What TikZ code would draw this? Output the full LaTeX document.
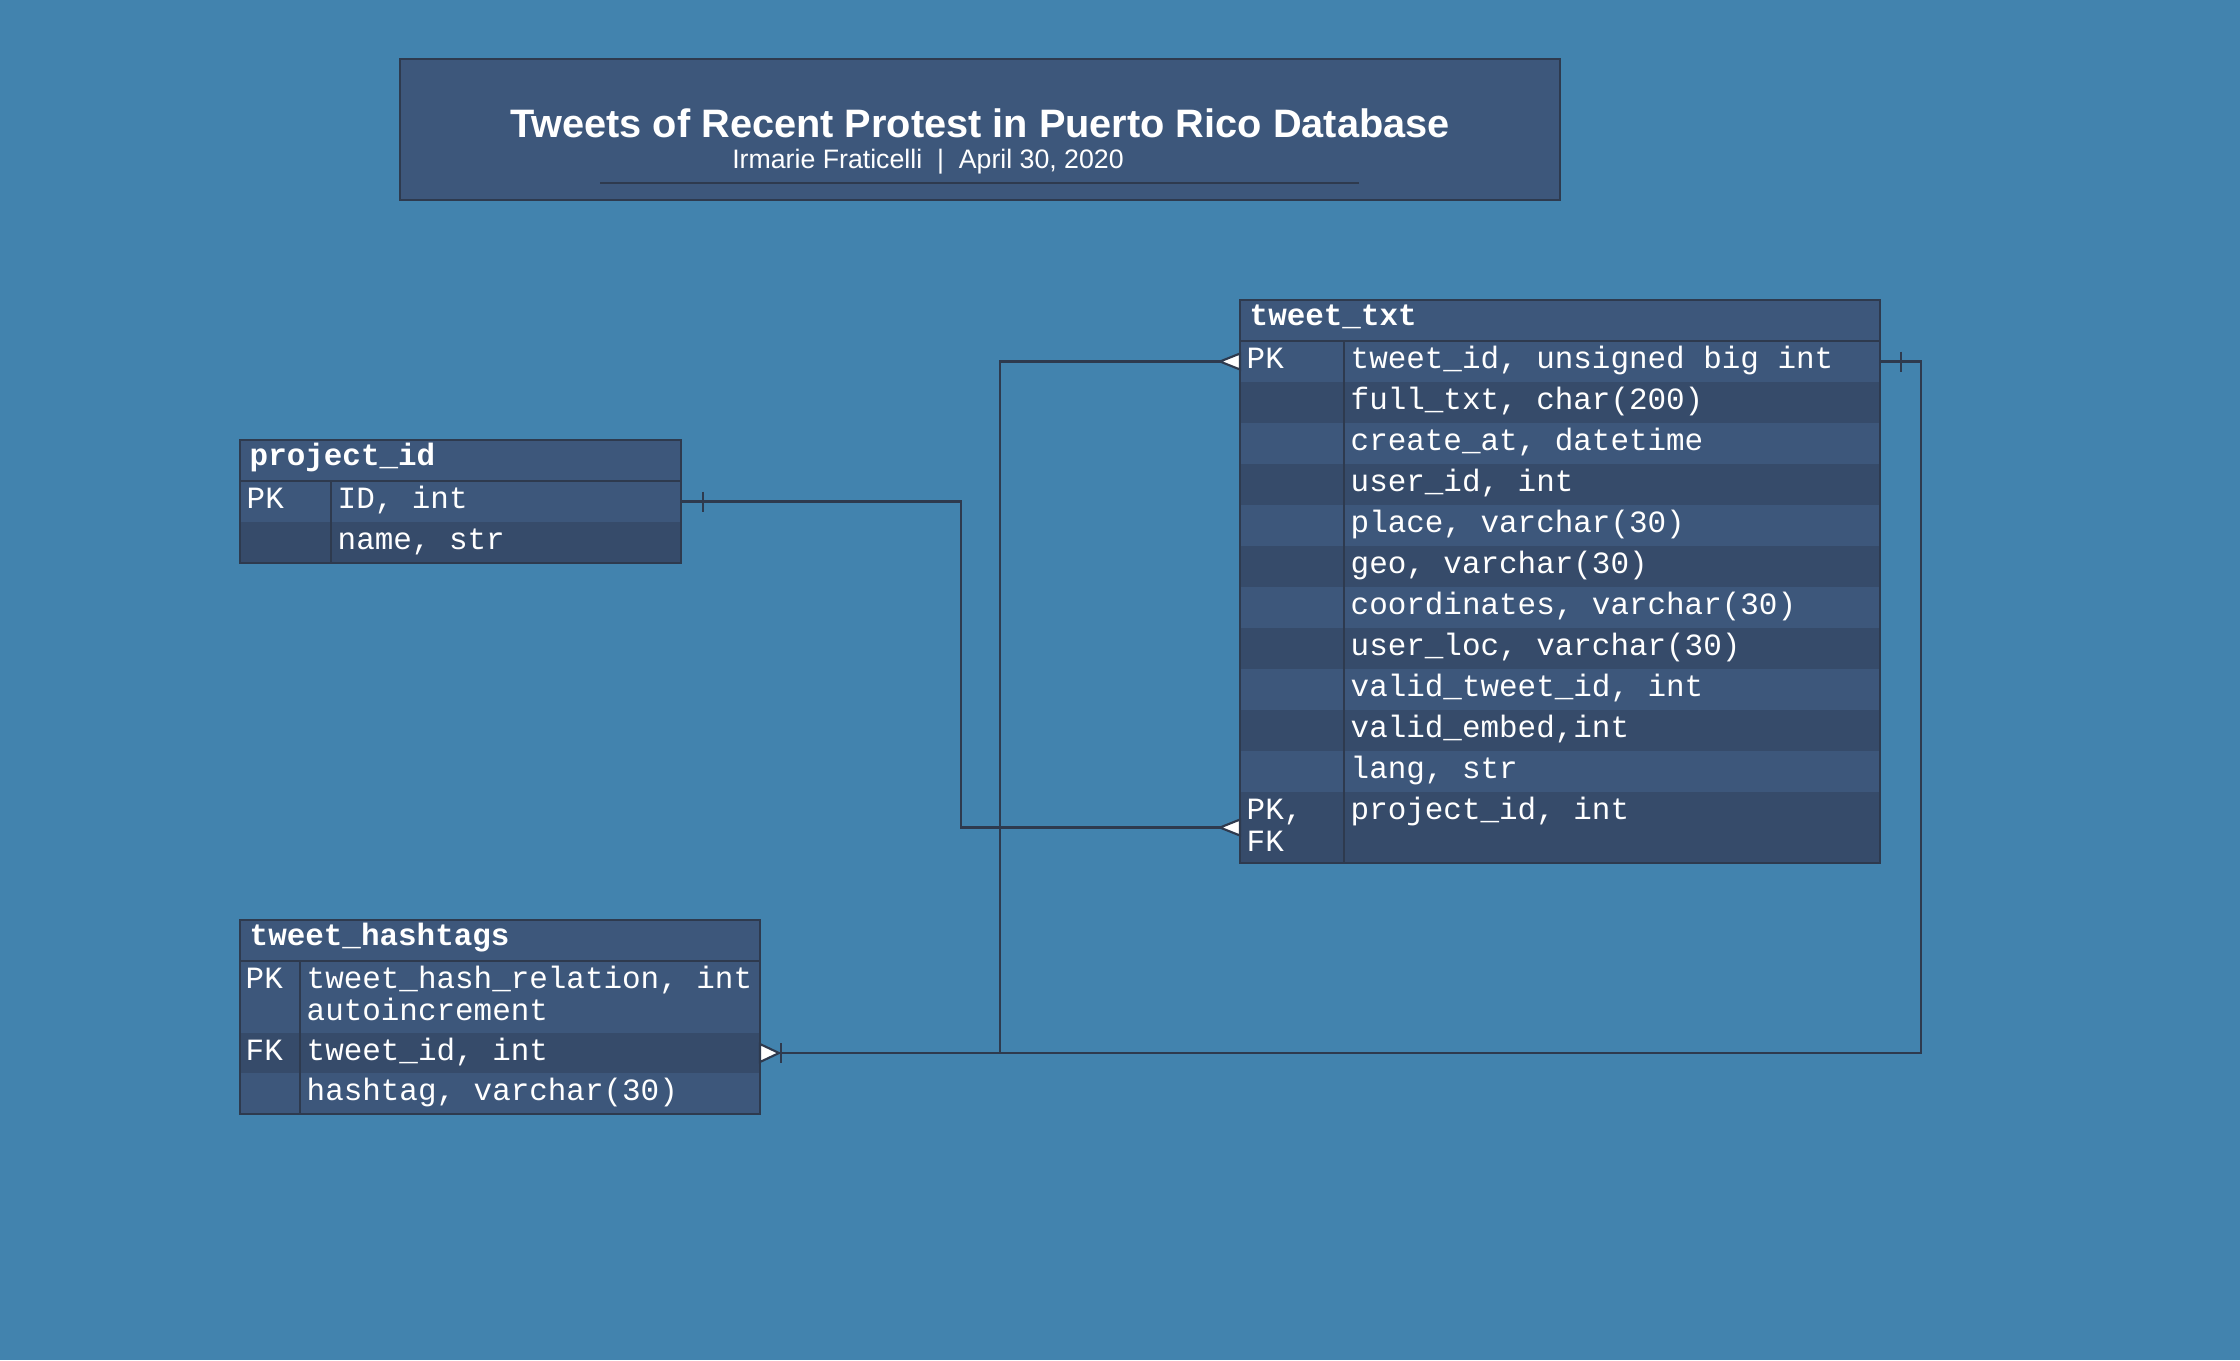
\documentclass[tikz,border=0pt]{standalone}
\usepackage{fontspec}
\setmainfont{Liberation Sans}
\setmonofont{Liberation Mono}

\definecolor{bgblue}{RGB}{66,131,174}
\definecolor{rowlight}{RGB}{61,87,123}
\definecolor{rowdark}{RGB}{54,75,106}
\definecolor{edgeline}{RGB}{46,58,78}

% lines of one cell, set on the baseline of the first one
\newcommand{\celllines}[1]{\begin{tabular}[t]{@{}l@{}}#1\end{tabular}}

\tikzset{
    rowbox/.style={inner sep=0pt, outer sep=0pt, anchor=north west},
    cell/.style={inner sep=0pt, anchor=base west, text=white,
        font=\ttfamily\fontsize{8.8}{9.3}\selectfont},
    headcell/.style={cell, font=\ttfamily\bfseries\fontsize{8.8}{9.3}\selectfont},
    frame/.style={draw=edgeline, line width=0.6pt},
    link/.style={draw=edgeline, line width=0.6pt},
}

\begin{document}
\begin{tikzpicture}[x=0.1mm, y=-0.1mm]

            % the frame
            \fill[bgblue] (0,0) rectangle (2240,1360);
            \useasboundingbox (0,0) rectangle (2240,1360);

            % the title
            \node[frame, fill=rowlight, minimum width=116mm, minimum height=14.1mm] (title) at (980,129.5) {};
            \node[anchor=base, text=white, font=\bfseries\fontsize{11.3}{13}\selectfont] (heading) at (980,137)
                {Tweets of Recent Protest in Puerto Rico Database};
            \node[anchor=base, text=white, font=\fontsize{7.6}{9}\selectfont] (byline) at (928,168)
                {Irmarie Fraticelli~~|~~April 30, 2020};
            \draw[edgeline, line width=0.6pt] (600,183) -- (1359,183);

            % project_id
            \node[rowbox, fill=rowlight, minimum width=44.1mm, minimum height=4.1mm] (pid-0) at (240,440) {};
            \node[headcell] (pid-head) at (249,465) {project\_id};
            \foreach \key/\field/\h [count=\i, remember=\rowend as \rowy (initially 481)] in
                {PK/{ID, int}/41, /{name, str}/41} {
                \pgfmathsetmacro{\rowend}{\rowy+\h}
                \ifodd\i \def\rowcol{rowlight}\else \def\rowcol{rowdark}\fi
                \node[rowbox, fill=\rowcol, minimum width=44.1mm, minimum height=\h*0.1mm] (pid-\i) at (240,\rowy) {};
                \node[cell] (pid-\i-key) at (246,\rowy+27) {\celllines{\key}};
                \node[cell] (pid-\i-val) at (337,\rowy+27) {\celllines{\field}};
            }
            \draw[frame] (pid-0.south west) -- (pid-0.south east);
            \draw[frame] ([xshift=9.1mm]pid-0.south west) -- ([xshift=9.1mm]pid-2.south west);
            \draw[frame] (pid-0.north west) rectangle (pid-2.south east);

            % tweet_txt
            \node[rowbox, fill=rowlight, minimum width=64mm, minimum height=4.1mm] (txt-0) at (1240,300) {};
            \node[headcell] (txt-head) at (1249,325) {tweet\_txt};
            \foreach \key/\field/\h [count=\i, remember=\rowend as \rowy (initially 341)] in
                {PK/{tweet\_id, unsigned big int}/41,
                 /{full\_txt, char(200)}/41,
                 /{create\_at, datetime}/41,
                 /{user\_id, int}/41,
                 /{place, varchar(30)}/41,
                 /{geo, varchar(30)}/41,
                 /{coordinates, varchar(30)}/41,
                 /{user\_loc, varchar(30)}/41,
                 /{valid\_tweet\_id, int}/41,
                 /{valid\_embed,int}/41,
                 /{lang, str}/41,
                 {PK,\\FK}/{project\_id, int}/71} {
                \pgfmathsetmacro{\rowend}{\rowy+\h}
                \ifodd\i \def\rowcol{rowlight}\else \def\rowcol{rowdark}\fi
                \node[rowbox, fill=\rowcol, minimum width=64mm, minimum height=\h*0.1mm] (txt-\i) at (1240,\rowy) {};
                \node[cell] (txt-\i-key) at (1246,\rowy+27) {\celllines{\key}};
                \node[cell] (txt-\i-val) at (1350,\rowy+27) {\celllines{\field}};
            }
            \draw[frame] (txt-0.south west) -- (txt-0.south east);
            \draw[frame] ([xshift=10.4mm]txt-0.south west) -- ([xshift=10.4mm]txt-12.south west);
            \draw[frame] (txt-0.north west) rectangle (txt-12.south east);

            % tweet_hashtags
            \node[rowbox, fill=rowlight, minimum width=52mm, minimum height=4.1mm] (tag-0) at (240,920) {};
            \node[headcell] (tag-head) at (249,945) {tweet\_hashtags};
            \foreach \key/\field/\h [count=\i, remember=\rowend as \rowy (initially 961)] in
                {PK/{tweet\_hash\_relation, int\\autoincrement}/72,
                 FK/{tweet\_id, int}/40,
                 /{hashtag, varchar(30)}/41} {
                \pgfmathsetmacro{\rowend}{\rowy+\h}
                \ifodd\i \def\rowcol{rowlight}\else \def\rowcol{rowdark}\fi
                \node[rowbox, fill=\rowcol, minimum width=52mm, minimum height=\h*0.1mm] (tag-\i) at (240,\rowy) {};
                \node[cell] (tag-\i-key) at (245,\rowy+27) {\celllines{\key}};
                \node[cell] (tag-\i-val) at (306,\rowy+27) {\celllines{\field}};
            }
            \draw[frame] (tag-0.south west) -- (tag-0.south east);
            \draw[frame] ([xshift=6mm]tag-0.south west) -- ([xshift=6mm]tag-3.south west);
            \draw[frame] (tag-0.north west) rectangle (tag-3.south east);

            % the links
            \draw[link] (pid-1.east) -- ++(280,0) |- (txt-12.west);
            \draw[link] (txt-1.west) -- ++(-240,0) |- (tag-2.east);
            \draw[link] (txt-1.east) -- ++(41,0) |- (tag-2.east);

            % the bars
            \draw[link] ([xshift=2.2mm]pid-1.east) ++(0,-10) -- ++(0,20);
            \draw[link] ([xshift=2.1mm]txt-1.east) ++(0,-10) -- ++(0,20);
            \draw[link] ([xshift=2.1mm]tag-2.east) ++(0,-10) -- ++(0,20);

            % the crow feet
            \filldraw[link, fill=white] (txt-1.west) ++(0,-8) -- ++(-20,8) -- ++(20,8) -- cycle;
            \filldraw[link, fill=white] (txt-12.west) ++(0,-8) -- ++(-20,8) -- ++(20,8) -- cycle;
            \filldraw[link, fill=white] (tag-2.east) ++(0,-9) -- ++(19,9) -- ++(-19,9) -- cycle;
        \end{tikzpicture}
\end{document}
